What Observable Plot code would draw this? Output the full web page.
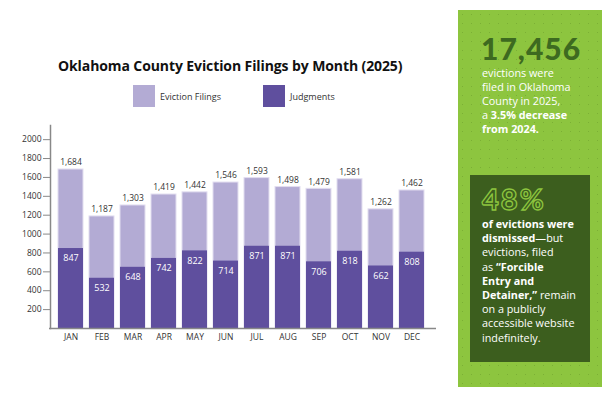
<!DOCTYPE html>
<html>
<head>
<meta charset="utf-8">
<script src="https://cdn.jsdelivr.net/npm/d3@7"></script>
<script src="https://cdn.jsdelivr.net/npm/@observablehq/plot@0.6"></script>
<style>
  html, body { margin: 0; padding: 0; background: #fff; }
  #page { position: relative; width: 612px; height: 396px; overflow: hidden; font-family: "Open Sans", sans-serif; }
  #title { position: absolute; left: 58px; top: 56px; font-size: 14px; font-weight: 700; color: #111; white-space: nowrap; letter-spacing: -0.1px; }
  .sw { position: absolute; width: 22px; height: 22px; top: 85px; }
  .lg { position: absolute; top: 90px; font-size: 9px; color: #333; white-space: nowrap; }
  #chart { position: absolute; left: 0; top: 120px; }
  #panel { position: absolute; left: 458px; top: 10px; width: 144px; height: 377px; background-color: #8dc53f;
    background-image: radial-gradient(circle, rgba(60,100,20,0.22) 0.6px, transparent 0.9px); background-size: 9px 9px; }
  #big1 { position: absolute; left: 23px; top: 26px; font-family: "Lato", sans-serif; font-weight: 900; font-size: 30px; color: #3d6a20; letter-spacing: 1px; line-height: 24px; }
  #txt1 { position: absolute; left: 24px; top: 56px; font-size: 10.8px; line-height: 14px; color: #fff; white-space: nowrap; }
  #box { position: absolute; left: 12px; top: 165px; width: 120px; height: 187px; background: #3c5e1e; }
  #big2 { position: absolute; left: 12px; top: 12px; font-family: "Lato", sans-serif; font-weight: 900; font-size: 29px; color: transparent; -webkit-text-stroke: 1.3px #8dc53f; letter-spacing: 2px; line-height: 24px; }
  #txt2 { position: absolute; left: 12px; top: 42px; font-size: 10.8px; line-height: 14.2px; color: #fff; white-space: nowrap; }
  b { font-weight: 700; }
</style>
</head>
<body>
<div id="page">
  <div id="title">Oklahoma County Eviction Filings by Month (2025)</div>
  <div class="sw" id="sw1" style="left:133px;"></div>
  <div class="lg" id="lg1" style="left:160px;"></div>
  <div class="sw" id="sw2" style="left:263px;"></div>
  <div class="lg" id="lg2" style="left:290px;"></div>
  <div id="chart"></div>
  <div id="panel">
    <div id="big1">17,456</div>
    <div id="txt1">evictions were<br>filed in Oklahoma<br>County in 2025,<br>a <b>3.5% decrease</b><br><b>from 2024.</b></div>
    <div id="box">
      <div id="big2">48%</div>
      <div id="txt2"><b>of evictions were</b><br><b>dismissed</b>—but<br>evictions, filed<br>as <b>“Forcible</b><br><b>Entry and</b><br><b>Detainer,”</b> remain<br>on a publicly<br>accessible website<br>indefinitely.</div>
    </div>
  </div>
</div>
<script>
const months = ["JAN","FEB","MAR","APR","MAY","JUN","JUL","AUG","SEP","OCT","NOV","DEC"];
const filings = [1684,1187,1303,1419,1442,1546,1593,1498,1479,1581,1262,1462];
const judgments = [847,532,648,742,822,714,871,871,706,818,662,808];
const yTicks = [200,400,600,800,1000,1200,1400,1600,1800,2000];
const seriesNames = ["Eviction Filings","Judgments"];
const seriesColors = ["#b3abd4","#5f4f9e"];

const data = months.map((m, i) => ({month: m, filings: filings[i], judgments: judgments[i]}));

document.getElementById("sw1").style.background = seriesColors[0];
document.getElementById("sw2").style.background = seriesColors[1];
document.getElementById("lg1").textContent = seriesNames[0];
document.getElementById("lg2").textContent = seriesNames[1];

const chart = Plot.plot({
  width: 450,
  height: 230,
  marginLeft: 50,
  marginRight: 18,
  marginTop: 5,
  marginBottom: 22,
  style: {fontFamily: "'Open Sans', sans-serif", fontSize: "8.5px", color: "#333", background: "transparent"},
  x: {domain: months, padding: 0.2, label: null},
  y: {domain: [0, 2150], label: null},
  marks: [
    Plot.barY(data, {x: "month", y: "filings", fill: seriesColors[0], stroke: "#e2def0", strokeWidth: 1}),
    Plot.barY(data, {x: "month", y: "judgments", fill: seriesColors[1]}),
    Plot.text(data, {x: "month", y: "filings", text: d => d3.format(",")(d.filings), dy: -7, fill: "#333", fontSize: 8.5}),
    Plot.text(data, {x: "month", y: "judgments", text: d => String(d.judgments), dy: 10, fill: "#fff", fontSize: 9}),
    Plot.axisY({ticks: yTicks, tickFormat: d => String(d), tickSize: 7, tickPadding: 2, stroke: "#888", label: null}),
    Plot.axisX({tickSize: 0, tickPadding: 5, label: null}),
    Plot.ruleY([0], {stroke: "#888", strokeWidth: 1.5, insetLeft: -1, insetRight: -4}),
    Plot.frame({anchor: "left", stroke: "#888", strokeWidth: 1.5})
  ]
});
document.getElementById("chart").appendChild(chart);
</script>
</body>
</html>
